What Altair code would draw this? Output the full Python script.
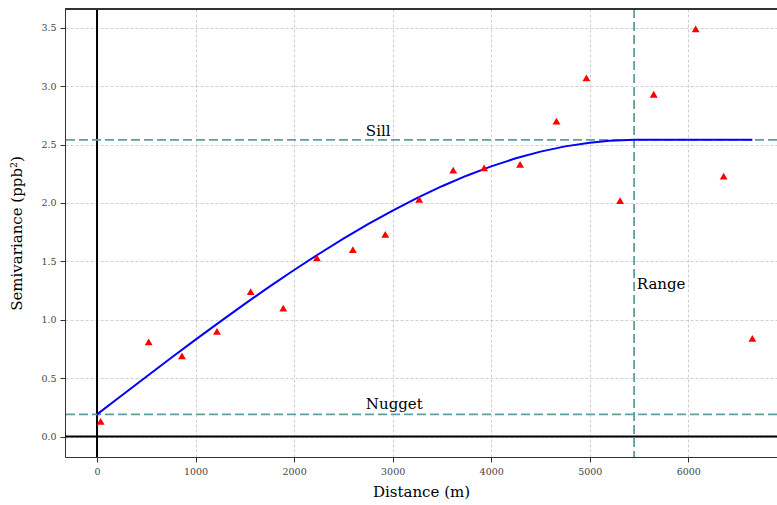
import altair as alt
import pandas as pd

lag = [37, 524, 862, 1217, 1559, 1890, 2231, 2596, 2925, 3269, 3614, 3928,
       4293, 4662, 4966, 5308, 5649, 6075, 6359, 6650]
gamma = [0.13, 0.81, 0.69, 0.90, 1.24, 1.10, 1.53, 1.60, 1.73, 2.03, 2.28, 2.30,
         2.33, 2.70, 3.07, 2.02, 2.93, 3.49, 2.23, 0.84]

# Fitted model curve
model_x = [0, 250, 500, 750, 1000, 1250, 1500, 1750, 2000, 2250, 2500, 2750, 3000,
           3250, 3500, 3750, 4000, 4250, 4500, 4750, 5000, 5200, 5450, 6000, 6650]
model_y = [0.190, 0.352, 0.512, 0.672, 0.830, 0.984, 1.136, 1.283, 1.426, 1.563,
           1.694, 1.818, 1.934, 2.043, 2.143, 2.233, 2.313, 2.382, 2.439, 2.484,
           2.516, 2.533, 2.540, 2.540, 2.540]

sill = 2.54
nugget = 0.19
rng = 5450

labels_text = ["Sill", "Nugget", "Range"]
labels_x = [2728, 2728, 5477]
labels_y = [2.57, 0.235, 1.26]

xticks = [0, 1000, 2000, 3000, 4000, 5000, 6000]
yticks = [0.0, 0.5, 1.0, 1.5, 2.0, 2.5, 3.0, 3.5]

W, H = 712, 448
FONT = "DejaVu Serif"
TEAL = "#5f9ea0"

pts = pd.DataFrame({"x": lag, "y": gamma})
mdl = pd.DataFrame({"x": model_x, "y": model_y})
lbl = pd.DataFrame({"x": labels_x, "y": labels_y, "t": labels_text})

xs = alt.Scale(domain=[-325, 6900], nice=False, zero=False)
ys = alt.Scale(domain=[-0.175, 3.66], nice=False, zero=False)

X = alt.X("x:Q", scale=xs, title="Distance (m)",
          axis=alt.Axis(values=xticks, format="d", grid=True, gridColor="#bcbcbc",
                        gridDash=[3, 2], gridWidth=0.7, tickSize=5, labelPadding=4,
                        titlePadding=9))
Y = alt.Y("y:Q", scale=ys, title="Semivariance (ppb²)",
          axis=alt.Axis(values=yticks, format=".1f", grid=True, gridColor="#bcbcbc",
                        gridDash=[3, 2], gridWidth=0.7, tickSize=5, labelPadding=4,
                        titlePadding=16))

base_axes = alt.Chart(pts).mark_point(opacity=0).encode(x=X, y=Y)

zero_v = alt.Chart(pd.DataFrame({"x": [0]})).mark_rule(color="black", strokeWidth=2).encode(x=alt.X("x:Q", scale=xs))
zero_h = alt.Chart(pd.DataFrame({"y": [0]})).mark_rule(color="black", strokeWidth=2).encode(y=alt.Y("y:Q", scale=ys))

hl = alt.Chart(pd.DataFrame({"y": [sill, nugget]})).mark_rule(
    color=TEAL, strokeWidth=1.8, strokeDash=[9, 4]).encode(y=alt.Y("y:Q", scale=ys))
vl = alt.Chart(pd.DataFrame({"x": [rng]})).mark_rule(
    color=TEAL, strokeWidth=1.8, strokeDash=[9, 4]).encode(x=alt.X("x:Q", scale=xs))

line = alt.Chart(mdl).mark_line(color="#0000ff", strokeWidth=2).encode(
    x=alt.X("x:Q", scale=xs), y=alt.Y("y:Q", scale=ys))

points = alt.Chart(pts).mark_point(shape="triangle-up", filled=True, color="red",
                                   opacity=1, size=62).encode(
    x=alt.X("x:Q", scale=xs), y=alt.Y("y:Q", scale=ys))

text = alt.Chart(lbl).mark_text(font=FONT, fontSize=15, align="left",
                                baseline="alphabetic", color="black").encode(
    x=alt.X("x:Q", scale=xs), y=alt.Y("y:Q", scale=ys), text="t:N")

top_border = alt.Chart(pts).mark_rule(color="#333333", strokeWidth=1).encode(
    x=alt.value(0), x2=alt.value(W), y=alt.value(0))

chart = alt.layer(base_axes, zero_v, zero_h, hl, vl, line, points, text, top_border).properties(
    width=W, height=H,
    autosize=alt.AutoSizeParams(type="none"),
    padding={"left": 65, "top": 9, "right": 0, "bottom": 48},
).configure_view(stroke=None).configure_axis(
    labelFont=FONT, labelFontSize=9.5, labelColor="#444444",
    titleFont=FONT, titleFontSize=15, titleFontWeight="normal", titleColor="black",
    domainColor="#333333", domainWidth=1, tickColor="#333333",
)

chart.save("out.html", embed_options={"renderer": "svg", "actions": False})
